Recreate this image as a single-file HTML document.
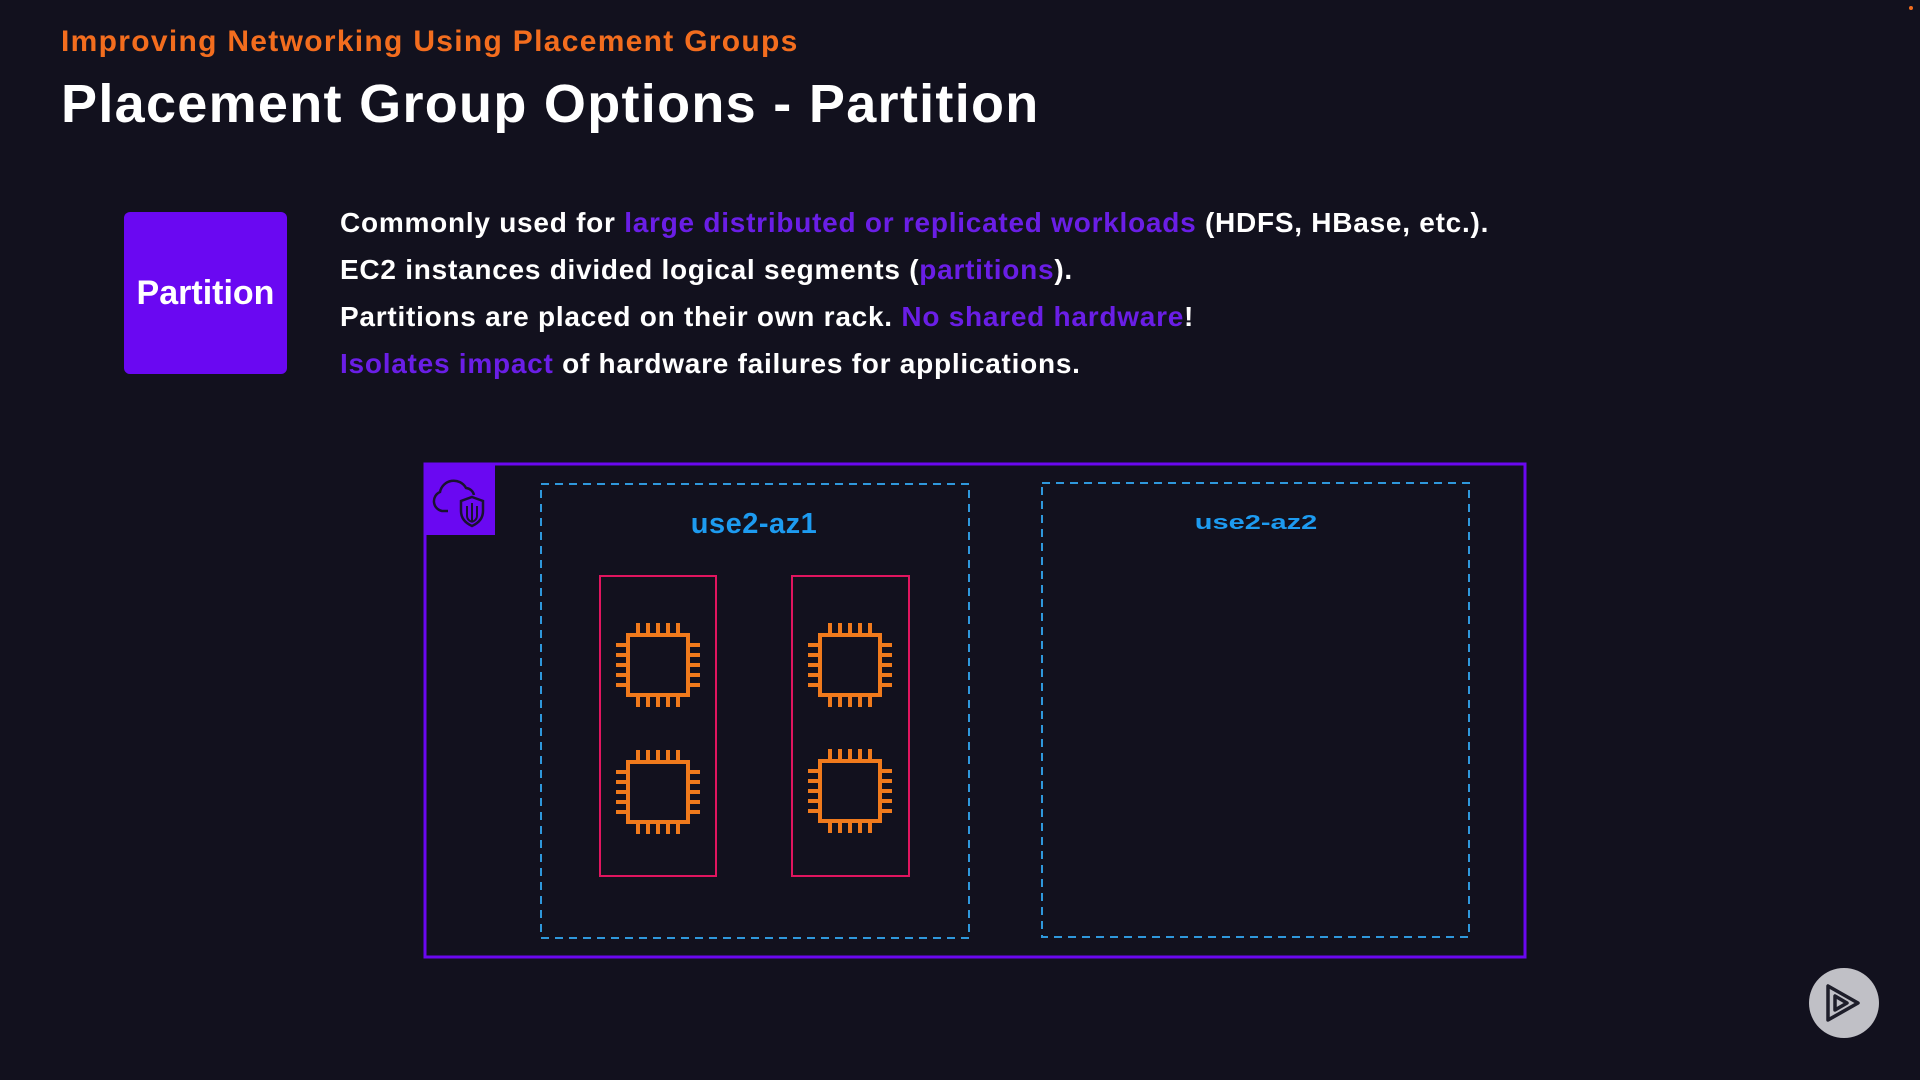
<!DOCTYPE html>
<html><head><meta charset="utf-8"><style>
html,body{margin:0;padding:0;background:#12111e;width:1920px;height:1080px;overflow:hidden;font-family:"Liberation Sans",sans-serif;}
.a{position:absolute;white-space:nowrap;}
.p{color:#6a1ee6;}
.l{left:340px;font-size:28px;font-weight:bold;color:#fff;letter-spacing:0.75px;}
</style></head><body>
<div class="a" style="left:61px;top:25px;font-size:30px;font-weight:bold;color:#f36d1e;letter-spacing:1.3px;">Improving Networking Using Placement Groups</div>
<div class="a" style="left:61px;top:73px;font-size:54px;font-weight:bold;color:#fff;letter-spacing:1.3px;">Placement Group Options - Partition</div>
<div class="a" style="left:124px;top:212px;width:163px;height:162px;background:#6a08f2;border-radius:6px;color:#fff;font-size:34px;font-weight:bold;display:flex;align-items:center;justify-content:center;">Partition</div>
<div class="a l" style="top:207px;">Commonly used for <span class="p">large distributed or replicated workloads</span> (HDFS, HBase, etc.).</div>
<div class="a l" style="top:254px;">EC2 instances divided logical segments (<span class="p">partitions</span>).</div>
<div class="a l" style="top:301px;">Partitions are placed on their own rack. <span class="p">No shared hardware</span>!</div>
<div class="a l" style="top:348px;"><span class="p">Isolates impact</span> of hardware failures for applications.</div>

<svg class="a" style="left:0;top:0" width="1920" height="1080">
<defs>
<g id="chip" fill="none" stroke="#f07a1c" stroke-width="4">
<rect x="-30" y="-30" width="60" height="60"/>
<path d="M-20-30v-12M-10-30v-12M0-30v-12M10-30v-12M20-30v-12M-20 30v12M-10 30v12M0 30v12M10 30v12M20 30v12M-30-20h-12M-30-10h-12M-30 0h-12M-30 10h-12M-30 20h-12M30-20h12M30-10h12M30 0h12M30 10h12M30 20h12"/>
</g>
</defs>
<rect x="425" y="464" width="1100" height="493" fill="none" stroke="#6a08f0" stroke-width="3"/>
<rect x="424" y="463" width="71" height="72" fill="#6a08f2"/>
<path d="M448 511 h-6 a10 10 0 0 1 -2 -19 a14 14 0 0 1 26 -4 a9 9 0 0 1 8 7" fill="none" stroke="#1a1230" stroke-width="2.5"/>
<path d="M472 497 l11 4 v10 q0 10 -11 15 q-11 -5 -11 -15 v-10z" fill="none" stroke="#1a1230" stroke-width="2.5"/>
<path d="M472 503 v18 M467 506 v10 q0 4 5 6 M477 506 v10 q0 4 -5 6" fill="none" stroke="#1a1230" stroke-width="2"/>
<rect x="541" y="484" width="428" height="454" fill="none" stroke="#2f98dc" stroke-width="2" stroke-dasharray="8,6"/>
<rect x="1042" y="483" width="427" height="454" fill="none" stroke="#2f98dc" stroke-width="2" stroke-dasharray="8,6"/>
<rect x="600" y="576" width="116" height="300" fill="none" stroke="#e0155f" stroke-width="2"/>
<rect x="792" y="576" width="117" height="300" fill="none" stroke="#e0155f" stroke-width="2"/>
<use href="#chip" x="658" y="665"/>
<use href="#chip" x="658" y="792"/>
<use href="#chip" x="850" y="665"/>
<use href="#chip" x="850" y="791"/>
<text x="754" y="533" text-anchor="middle" font-size="29" font-weight="bold" fill="#1d9bf0" font-family="Liberation Sans,sans-serif" letter-spacing="0.5">use2-az1</text>
<text x="0" y="0" text-anchor="middle" font-size="20" font-weight="bold" fill="#1d9bf0" font-family="Liberation Sans,sans-serif" transform="translate(1256,529) scale(1.45,1)">use2-az2</text>
<circle cx="1844" cy="1003" r="35" fill="#c0c0c6"/>
<path d="M1828 986 v34 l30 -17z M1835 996 v14 l12 -7z" fill="none" stroke="#1e1e2a" stroke-width="3.5" stroke-linejoin="round"/>
<circle cx="1911" cy="8" r="2" fill="#f36d1e"/>
</svg>
</body></html>
